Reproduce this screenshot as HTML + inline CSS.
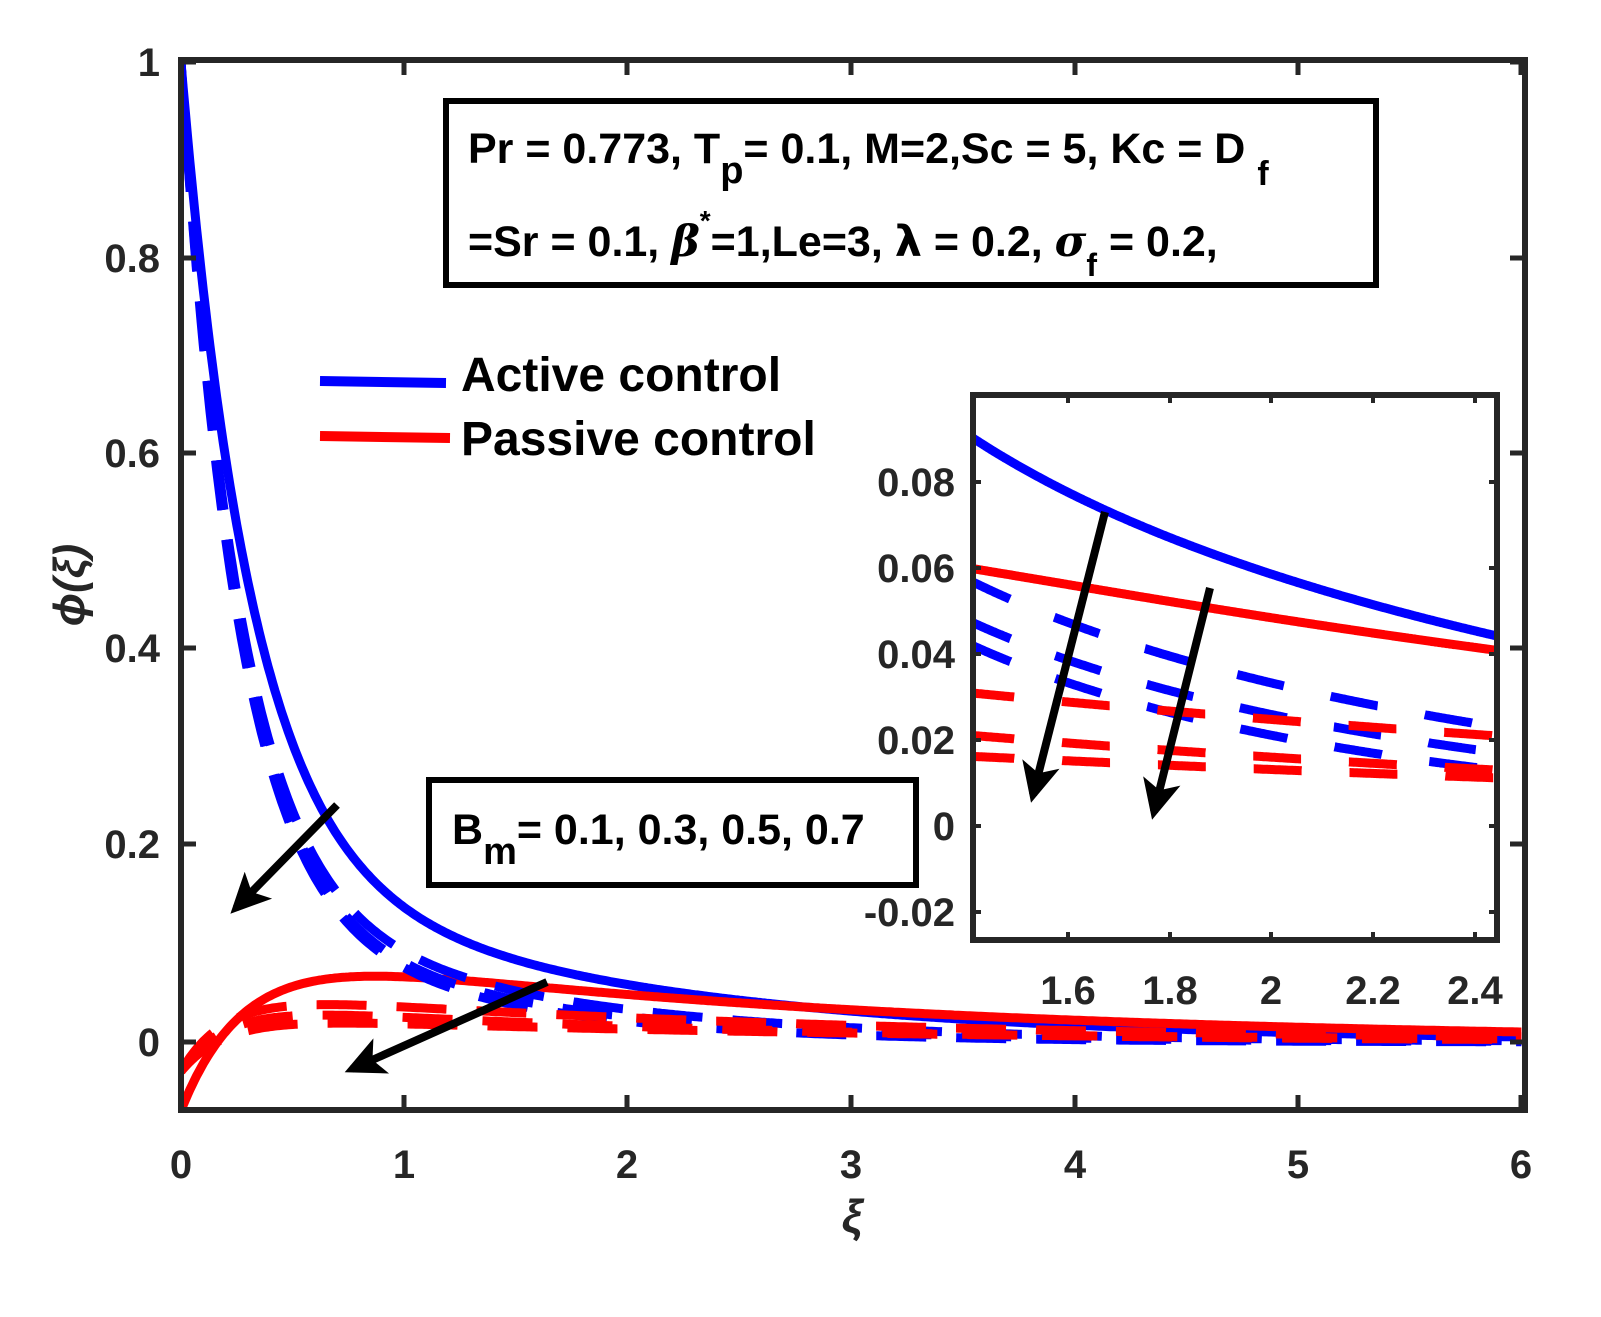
<!DOCTYPE html>
<html><head><meta charset="utf-8">
<style>
body{margin:0;background:#fff;}
svg text{font-family:"Liberation Sans",sans-serif;font-weight:bold;fill:#262626;}
</style></head>
<body>
<svg id="s" width="1601" height="1312" viewBox="0 0 1601 1312" xmlns="http://www.w3.org/2000/svg">
<defs>
<clipPath id="cm"><rect x="181" y="60" width="1344" height="1050"/></clipPath>
<clipPath id="ci"><rect x="973" y="395" width="524" height="545"/></clipPath>
<marker id="ah" markerWidth="6" markerHeight="6" refX="4" refY="3" orient="auto" markerUnits="strokeWidth">
<path d="M0,0.6 L5,3 L0,5.4 L1.2,3 Z" fill="#000"/></marker>
</defs>
<rect width="1601" height="1312" fill="#fff"/>
<g id="main" clip-path="url(#cm)"></g>
<g id="ticks" stroke="#262626" stroke-width="5"></g>
<rect x="181" y="60" width="1344" height="1050" fill="none" stroke="#262626" stroke-width="6"/>
<g font-size="40" text-anchor="end">
<text x="160" y="76">1</text><text x="160" y="272">0.8</text><text x="160" y="467">0.6</text>
<text x="160" y="662">0.4</text><text x="160" y="858">0.2</text><text x="160" y="1056">0</text>
</g>
<g font-size="40" text-anchor="middle">
<text x="181" y="1178">0</text><text x="404" y="1178">1</text><text x="627" y="1178">2</text>
<text x="851" y="1178">3</text><text x="1075" y="1178">4</text><text x="1298" y="1178">5</text><text x="1521" y="1178">6</text>
</g>
<text x="852" y="1232" font-size="46" font-style="italic" text-anchor="middle" font-family="DejaVu Sans">ξ</text>
<text transform="translate(84,585) rotate(-90)" font-size="44" font-style="italic" text-anchor="middle" font-family="DejaVu Sans">ϕ(ξ)</text>

<rect x="446" y="101" width="930" height="184" fill="#fff" stroke="#000" stroke-width="6"/>
<text x="468" y="163" font-size="43" style="fill:#000">Pr = 0.773, T<tspan dy="20" font-size="38">p</tspan><tspan dy="-20">= 0.1, M=2,Sc = 5, Kc = D </tspan><tspan dy="22" font-size="34">f</tspan></text>
<text x="468" y="256" font-size="43" style="fill:#000">=Sr = 0.1,  <tspan font-style="italic" font-family="DejaVu Serif">β</tspan><tspan dy="-26" font-size="28">*</tspan><tspan dy="26">=1,Le=3, </tspan><tspan font-family="DejaVu Sans">λ</tspan> = 0.2, <tspan font-style="italic" font-family="DejaVu Serif">σ</tspan><tspan dy="20" font-size="32">f</tspan><tspan dy="-20"> = 0.2,</tspan></text>

<line x1="320" y1="381" x2="446" y2="383" stroke="#00f" stroke-width="10"/>
<line x1="320" y1="436" x2="450" y2="438" stroke="#f00" stroke-width="10"/>
<text x="461" y="391" font-size="48" style="fill:#000">Active control</text>
<text x="461" y="455" font-size="48" style="fill:#000">Passive control</text>

<rect x="429" y="780" width="487" height="105" fill="#fff" stroke="#000" stroke-width="6"/>
<text x="452" y="844" font-size="43" style="fill:#000">B<tspan dy="20" font-size="38">m</tspan><tspan dy="-20">= 0.1, 0.3, 0.5, 0.7</tspan></text>

<line x1="337" y1="805" x2="236" y2="908" stroke="#000" stroke-width="8" marker-end="url(#ah)"/>
<line x1="547" y1="982" x2="352" y2="1069" stroke="#000" stroke-width="8" marker-end="url(#ah)"/>

<rect x="973" y="395" width="524" height="545" fill="#fff"/>
<g id="ins" clip-path="url(#ci)"></g>
<g id="iticks" stroke="#262626" stroke-width="4"></g>
<rect x="973" y="395" width="524" height="545" fill="none" stroke="#262626" stroke-width="6"/>
<g font-size="40" text-anchor="end">
<text x="955" y="496">0.08</text><text x="955" y="582">0.06</text><text x="955" y="668">0.04</text>
<text x="955" y="754">0.02</text><text x="955" y="840">0</text><text x="955" y="926">-0.02</text>
</g>
<g font-size="40" text-anchor="middle">
<text x="1068" y="1004">1.6</text><text x="1170" y="1004">1.8</text><text x="1271" y="1004">2</text>
<text x="1373" y="1004">2.2</text><text x="1475" y="1004">2.4</text>
</g>
<line x1="1105" y1="512" x2="1033" y2="795" stroke="#000" stroke-width="8" marker-end="url(#ah)"/>
<line x1="1210" y1="588" x2="1154" y2="812" stroke="#000" stroke-width="8" marker-end="url(#ah)"/>
</svg>
<script>
var E=Math.exp;
var fs=[
 ["#00f",null,function(x){return 0.81*E(-3.2*x)+0.19*E(-0.6*x);}],
 ["#f00",null,function(x){return 0.106*E(-0.39*x)-0.176*E(-3.5*x);}],
 ["#00f","d",function(x){return 0.834*E(-3.8*x)+0.166*E(-0.81*x);}],
 ["#00f","d",function(x){return 0.839*E(-3.9*x)+0.161*E(-0.92*x);}],
 ["#00f","d",function(x){return 0.823*E(-4.0*x)+0.177*E(-1.07*x);}],
 ["#f00","d",function(x){return 0.053*E(-0.38*x)-0.083*E(-5*x);}],
 ["#f00","d",function(x){return 0.041*E(-0.47*x)-0.071*E(-5*x);}],
 ["#f00","d",function(x){return 0.027*E(-0.36*x)-0.057*E(-5*x);}]
];
var NS="http://www.w3.org/2000/svg";
function draw(g,x0,x1,mx,my,dash){
  fs.forEach(function(f){
    var d="";for(var i=0;i<=600;i++){var x=x0+(x1-x0)*i/600;d+=(i?"L":"M")+mx(x).toFixed(1)+","+my(f[2](x)).toFixed(1);}
    var p=document.createElementNS(NS,"path");p.setAttribute("d",d);p.setAttribute("fill","none");
    p.setAttribute("stroke",f[0]);p.setAttribute("stroke-width","9");
    if(f[1])p.setAttribute("stroke-dasharray",dash);
    g.appendChild(p);
  });
}
draw(document.getElementById("main"),0,6,function(x){return 181+223.4*x;},function(y){return 1042-980*y;},"50 30");
draw(document.getElementById("ins"),1.4,2.46,function(x){return 973+(x-1.413)*508.5;},function(y){return 826-4300*y;},"48 48");
var t=document.getElementById("ticks"),h="";
[181,404,627,851,1075,1298,1521].forEach(function(x){h+='<line x1="'+x+'" y1="1110" x2="'+x+'" y2="1095"/><line x1="'+x+'" y1="60" x2="'+x+'" y2="75"/>';});
[62,258,453,648,844,1042].forEach(function(y){h+='<line x1="181" y1="'+y+'" x2="196" y2="'+y+'"/><line x1="1525" y1="'+y+'" x2="1510" y2="'+y+'"/>';});
t.innerHTML=h;
var ti=document.getElementById("iticks");h="";
[1068,1170,1271,1373,1475].forEach(function(x){h+='<line x1="'+x+'" y1="940" x2="'+x+'" y2="932"/><line x1="'+x+'" y1="395" x2="'+x+'" y2="403"/>';});
[482,568,654,740,826,912].forEach(function(y){h+='<line x1="973" y1="'+y+'" x2="981" y2="'+y+'"/><line x1="1497" y1="'+y+'" x2="1489" y2="'+y+'"/>';});
ti.innerHTML=h;
</script>
</body></html>
